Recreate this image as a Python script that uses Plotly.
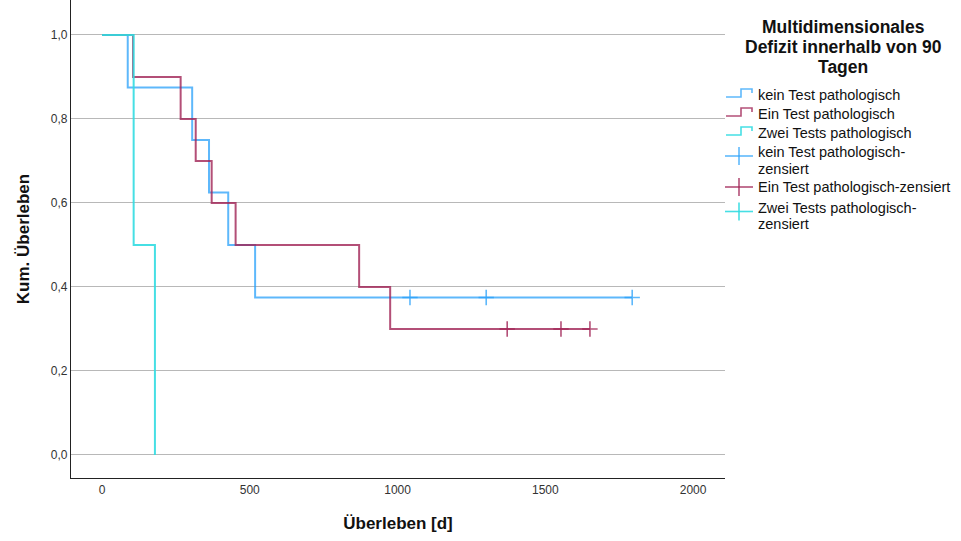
import plotly.graph_objects as go

# ---- data ----
group_names = ["kein Test pathologisch", "Ein Test pathologisch", "Zwei Tests pathologisch"]
censor_names = [["kein Test pathologisch-", "zensiert"], ["Ein Test pathologisch-zensiert"],
                ["Zwei Tests pathologisch-", "zensiert"]]

kein_t = [0, 87, 305, 362, 427, 518, 1794]
kein_s = [1.0, 0.875, 0.75, 0.625, 0.5, 0.375, 0.375]
kein_cens_t = [1042, 1300, 1794]
kein_cens_s = [0.375, 0.375, 0.375]

ein_t = [0, 105, 266, 317, 371, 452, 870, 975, 1651]
ein_s = [1.0, 0.9, 0.8, 0.7, 0.6, 0.5, 0.4, 0.3, 0.3]
ein_cens_t = [1371, 1553, 1651]
ein_cens_s = [0.3, 0.3, 0.3]

zwei_t = [0, 107, 179]
zwei_s = [1.0, 0.5, 0.0]
zwei_cens_t = []   # no censored cases in this group
zwei_cens_s = []

y_ticks = [0.0, 0.2, 0.4, 0.6, 0.8, 1.0]
y_tick_labels = ["0,0", "0,2", "0,4", "0,6", "0,8", "1,0"]
x_ticks = [0, 500, 1000, 1500, 2000]
legend_title_lines = ["Multidimensionales", "Defizit innerhalb von 90", "Tagen"]

colors = ["rgba(40,160,250,0.75)", "rgba(160,35,85,0.8)", "rgba(50,220,225,0.9)"]

FONT = "Liberation Sans, Arial, sans-serif"

# plot-area geometry in pixels (used to place the hand-drawn legend)
L, R, T, B = 71, 725, 0, 478
def px(x):
    return (x - L) / (R - L)
def py(y):
    return 1 - (y - T) / (B - T)

fig = go.Figure()
series = [(kein_t, kein_s), (ein_t, ein_s), (zwei_t, zwei_s)]
cens = [(kein_cens_t, kein_cens_s), (ein_cens_t, ein_cens_s), (zwei_cens_t, zwei_cens_s)]

for (t, s), name, c in zip(series, group_names, colors):
    fig.add_trace(go.Scatter(x=t, y=s, mode="lines", line=dict(shape="hv", color=c, width=2),
                             name=name, hoverinfo="skip", showlegend=False))
for (t, s), name, c in zip(cens, censor_names, colors):
    fig.add_trace(go.Scatter(x=t, y=s, mode="markers", name=" ".join(name), showlegend=False,
                             marker=dict(symbol="cross-thin", size=11, line=dict(color=c, width=1.6), color=c),
                             hoverinfo="skip"))

annotations = []
shapes = []
for i, line in enumerate(legend_title_lines):
    annotations.append(dict(text="<b>" + line + "</b>", xref="paper", yref="paper",
                            x=px(843), y=py(27 + 20 * i), borderpad=0,
                            xanchor="center", yanchor="middle", showarrow=False,
                            font=dict(size=17.5, color="#111", family=FONT)))

# legend entries: lines (step icons)
line_centers = [95, 114, 133]
for yc, name, c in zip(line_centers, group_names, colors):
    path = "M {} {} L {} {} L {} {} L {} {} L {} {}".format(
        px(726), py(yc + 2), px(741), py(yc + 2), px(741), py(yc - 6),
        px(752), py(yc - 6), px(752), py(yc - 2))
    shapes.append(dict(type="path", path=path, xref="paper", yref="paper",
                       line=dict(color=c, width=1.6)))
    annotations.append(dict(text=name, xref="paper", yref="paper", x=px(757), y=py(yc),
                            xanchor="left", yanchor="middle", showarrow=False, borderpad=0,
                            font=dict(size=14.5, color="#111", family=FONT)))

# legend entries: censored markers
cens_first_lines = [152, 187, 207.5]
for yc, name, c in zip(cens_first_lines, censor_names, colors):
    cy = yc + (4 if len(name) > 1 else 0)
    shapes.append(dict(type="line", xref="paper", yref="paper", x0=px(725), x1=px(753),
                       y0=py(cy), y1=py(cy), line=dict(color=c, width=1.6)))
    shapes.append(dict(type="line", xref="paper", yref="paper", x0=px(739), x1=px(739),
                       y0=py(cy - 9), y1=py(cy + 9), line=dict(color=c, width=1.6)))
    for k, part in enumerate(name):
        annotations.append(dict(text=part, xref="paper", yref="paper", x=px(757),
                                y=py(yc + 16.5 * k), xanchor="left", yanchor="middle",
                                showarrow=False, borderpad=0,
                                font=dict(size=14.5, color="#111", family=FONT)))

fig.update_layout(
    width=961, height=541,
    margin=dict(l=L, r=961 - R, t=T, b=541 - B, autoexpand=False),
    paper_bgcolor="white", plot_bgcolor="white",
    font=dict(family=FONT, size=12, color="#222"),
    showlegend=False,
    annotations=annotations,
    shapes=shapes,
)
fig.update_xaxes(range=[-105, 2108], tickvals=x_ticks, showgrid=False, zeroline=False,
                 showline=True, linecolor="#222", linewidth=1.3, ticks="", ticklen=0,
                 tickfont=dict(size=12, color="#333"),
                 title=dict(text="<b>Überleben [d]</b>", font=dict(size=17, color="#111"), standoff=21))
fig.update_yaxes(range=[-0.0548, 1.0833], tickvals=y_ticks, ticktext=y_tick_labels,
                 showgrid=True, gridcolor="#b8b8b8", gridwidth=1, zeroline=False,
                 showline=True, linecolor="#222", linewidth=1.3, ticks="",
                 tickfont=dict(size=12, color="#333"),
                 title=dict(text="<b>Kum. Überleben</b>", font=dict(size=17, color="#111"), standoff=16))

fig.write_html("out.html")
